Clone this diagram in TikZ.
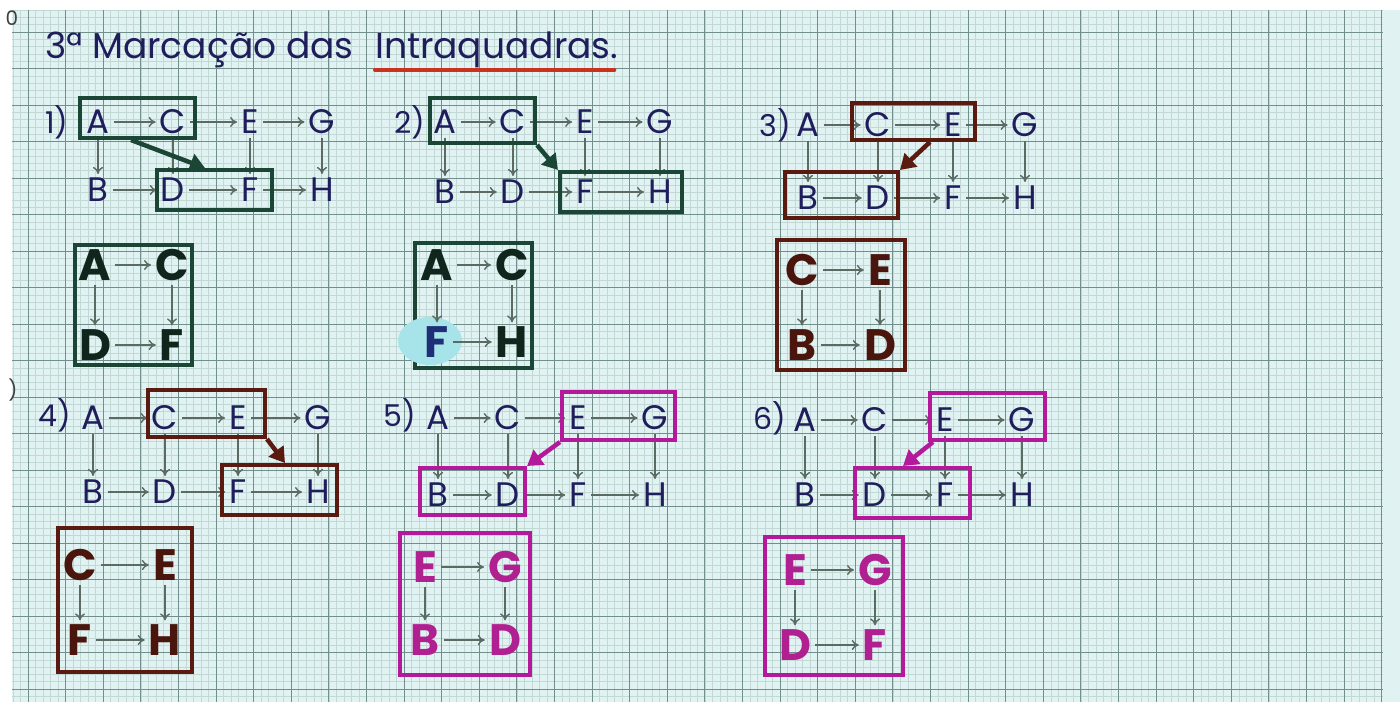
\documentclass[tikz,border=0pt]{standalone}
\usepackage{fontspec}
\setmainfont{Poppins}
\usetikzlibrary{arrows.meta,calc}
\definecolor{paper}{HTML}{E0F3F2}
\definecolor{minorline}{HTML}{C2D8D5}
\definecolor{majorline}{HTML}{72908B}
\definecolor{navy}{HTML}{1F1D5C}
\definecolor{blueF}{HTML}{1E2F78}
\definecolor{dgreen}{HTML}{1B4636}
\definecolor{sqgreen}{HTML}{10261C}
\definecolor{brownbox}{HTML}{5B1A10}
\definecolor{brownlet}{HTML}{4A150C}
\definecolor{magbox}{HTML}{B4199C}
\definecolor{maglet}{HTML}{B02090}
\definecolor{arrowgrey}{HTML}{5B6B62}
\definecolor{redline}{HTML}{C8321E}
\definecolor{hlcyan}{HTML}{A6E4EA}
\tikzset{
  lt/.style={text=navy, font=\fontsize{34}{36}\selectfont, inner sep=3pt},
  lab/.style={text=navy, font=\fontsize{30}{32}\selectfont, inner sep=0pt},
  sl/.style={text=\sqc, font=\fontsize{44}{46}\selectfont\bfseries, inner sep=3pt},
  ar/.style={draw=arrowgrey, line width=1.4pt, -{To[length=7pt,width=10pt]}, shorten >=1pt, shorten <=1pt},
  boxnode/.style={draw=#1, line width=4pt, rectangle, inner sep=0pt},
  sqbox/.style={draw=#1, line width=4.5pt, rectangle, inner sep=0pt},
  thk/.style={draw=#1, line width=4.5pt, -{Triangle[length=15pt,width=18pt]}},
  minorl/.style={draw=minorline, line width=0.45pt},
  majorl/.style={draw=majorline, line width=0.9pt},
  ttl/.style={anchor=base west, text=navy, font=\fontsize{36}{38}\selectfont, inner sep=0pt},
}
\newcommand\diag[7]{%
  \node[lt] (#1A) at (#2,#6) {A};
  \node[lt] (#1C) at (#3,#6) {C};
  \node[lt] (#1E) at (#4,#6) {E};
  \node[lt] (#1G) at (#5,#6) {G};
  \node[lt] (#1B) at (#2,#7) {B};
  \node[lt] (#1D) at (#3,#7) {D};
  \node[lt] (#1F) at (#4,#7) {F};
  \node[lt] (#1H) at (#5,#7) {H};
  \draw[ar] (#1A) -- (#1C);
  \draw[ar] (#1C) -- (#1E);
  \draw[ar] (#1E) -- (#1G);
  \draw[ar] (#1B) -- (#1D);
  \draw[ar] (#1D) -- (#1F);
  \draw[ar] (#1F) -- (#1H);
  \draw[ar] (#1A) -- (#1B);
  \draw[ar] (#1C) -- (#1D);
  \draw[ar] (#1E) -- (#1F);
  \draw[ar] (#1G) -- (#1H);
}
\newcommand\sq[9]{%
  \node[sl] (#1TL) at (#2,#4) {#6};
  \node[sl] (#1TR) at (#3,#4) {#7};
  \node[sl] (#1BL) at (#2,#5) {#8};
  \node[sl] (#1BR) at (#3,#5) {#9};
  \draw[ar] (#1TL) -- (#1TR);
  \draw[ar] (#1BL) -- (#1BR);
  \draw[ar] (#1TL) -- (#1BL);
  \draw[ar] (#1TR) -- (#1BR);
}
\begin{document}
\begin{tikzpicture}[x=1pt,y=-1pt]
\useasboundingbox (0,0) rectangle (1400,715);
\fill[white] (0,0) rectangle (1400,715);
\fill[paper] (12,10) rectangle (1400,702);
% graph paper
\foreach \k in {-2,...,180} \draw[minorl] ({28+7.52*\k},10) -- ({28+7.52*\k},702);
\foreach \k in {-3,...,91} \draw[minorl] (12,{32+7.3*\k}) -- (1383,{32+7.3*\k});
\foreach \k in {0,...,36} \draw[majorl] ({28+37.6*\k},10) -- ({28+37.6*\k},702);
\foreach \k in {0,...,18} \draw[majorl] (12,{32+36.5*\k}) -- (1383,{32+36.5*\k});
% margin marks
\node[text=black!75, font=\fontsize{20}{22}\selectfont] (m0) at (12,18) {0};
\node[text=black!75, font=\fontsize{20}{22}\selectfont] (m1) at (13,390) {)};
% title
\node[ttl] (t1) at (45,58) {3ª Marcação das};
\node[ttl] (t2) at (375,58) {Intraquadras.};
\draw[redline, line width=4pt, line cap=round] ($(t2.base west)+(0,12)$) -- ($(t2.base east)+(-4,12)$);

% ---------- Panel 1 ----------
\node[lab] (l1) at (57,122) {1)};
\diag{a}{98}{173}{250}{322}{122}{190}
\node[boxnode=dgreen, minimum width=115, minimum height=40] (a1) at (137.5,118) {};
\node[boxnode=dgreen, minimum width=115, minimum height=40] (a2) at (214.5,190) {};
\draw[thk=dgreen] ([xshift=53]a1.south west) -- ([xshift=50]a2.north west);
\node[sqbox=dgreen, minimum width=117, minimum height=120] (aq) at (133.5,305) {};
\def\sqc{sqgreen}
\sq{as}{95}{172}{265}{345}{A}{C}{D}{F}

% ---------- Panel 2 ----------
\node[lab] (l2) at (410,122) {2)};
\diag{b}{445}{513}{585}{660}{122}{192}
\node[boxnode=dgreen, minimum width=105, minimum height=45] (b1) at (482.5,120.5) {};
\node[boxnode=dgreen, minimum width=122, minimum height=40] (b2) at (621,192) {};
\draw[thk=dgreen] (b1.south east) -- (b2.north west);
\node[sqbox=dgreen, minimum width=117, minimum height=125] (bq) at (473.5,305.5) {};
\fill[hlcyan] (430,341) ellipse (32pt and 24pt);
\def\sqc{sqgreen}
\sq{bs}{437}{512}{265}{342}{A}{C}{\textcolor{blueF}{F}}{H}

% ---------- Panel 3 ----------
\node[lab] (l3) at (775,125) {3)};
\diag{c}{808}{878}{953}{1025}{125}{198}
\node[boxnode=brownbox, minimum width=123, minimum height=37] (c1) at (913.5,121.5) {};
\node[boxnode=brownbox, minimum width=113, minimum height=46] (c2) at (841.5,195) {};
\draw[thk=brownbox] ([xshift=80]c1.south west) -- (c2.north east);
\node[sqbox=brownbox, minimum width=128, minimum height=130] (cq) at (841,305) {};
\def\sqc{brownlet}
\sq{cs}{802}{880}{270}{345}{C}{E}{B}{D}

% ---------- Panel 4 ----------
\node[lab] (l4) at (55,415) {4)};
\diag{d}{93}{165}{238}{318}{418}{492}
\node[boxnode=brownbox, minimum width=117, minimum height=47] (d1) at (206.5,413.5) {};
\node[boxnode=brownbox, minimum width=115, minimum height=50] (d2) at (279.5,490) {};
\draw[thk=brownbox] (d1.south east) -- ([xshift=-54]d2.north east);
\node[sqbox=brownbox, minimum width=134, minimum height=144] (dq) at (125,600) {};
\def\sqc{brownlet}
\sq{ds}{80}{165}{565}{640}{C}{E}{F}{H}

% ---------- Panel 5 ----------
\node[lab] (l5) at (400,415) {5)};
\diag{e}{438}{508}{578}{655}{418}{495}
\node[boxnode=magbox, minimum width=113, minimum height=48] (e1) at (618.5,416) {};
\node[boxnode=magbox, minimum width=105, minimum height=47] (e2) at (472.5,491.5) {};
\draw[thk=magbox] (e1.south west) -- (e2.north east);
\node[sqbox=magbox, minimum width=130, minimum height=142] (eq) at (465,604) {};
\def\sqc{maglet}
\sq{es}{425}{505}{567}{640}{E}{G}{B}{D}

% ---------- Panel 6 ----------
\node[lab] (l6) at (770,418) {6)};
\diag{f}{805}{875}{945}{1022}{420}{495}
\node[boxnode=magbox, minimum width=115, minimum height=47] (f1) at (987.5,416.5) {};
\node[boxnode=magbox, minimum width=115, minimum height=50] (f2) at (912.5,493) {};
\draw[thk=magbox] ([xshift=5]f1.south west) -- ([xshift=50]f2.north west);
\node[sqbox=magbox, minimum width=138, minimum height=138] (fq) at (834,606) {};
\def\sqc{maglet}
\sq{fs}{795}{875}{570}{645}{E}{G}{D}{F}
\end{tikzpicture}
\end{document}
